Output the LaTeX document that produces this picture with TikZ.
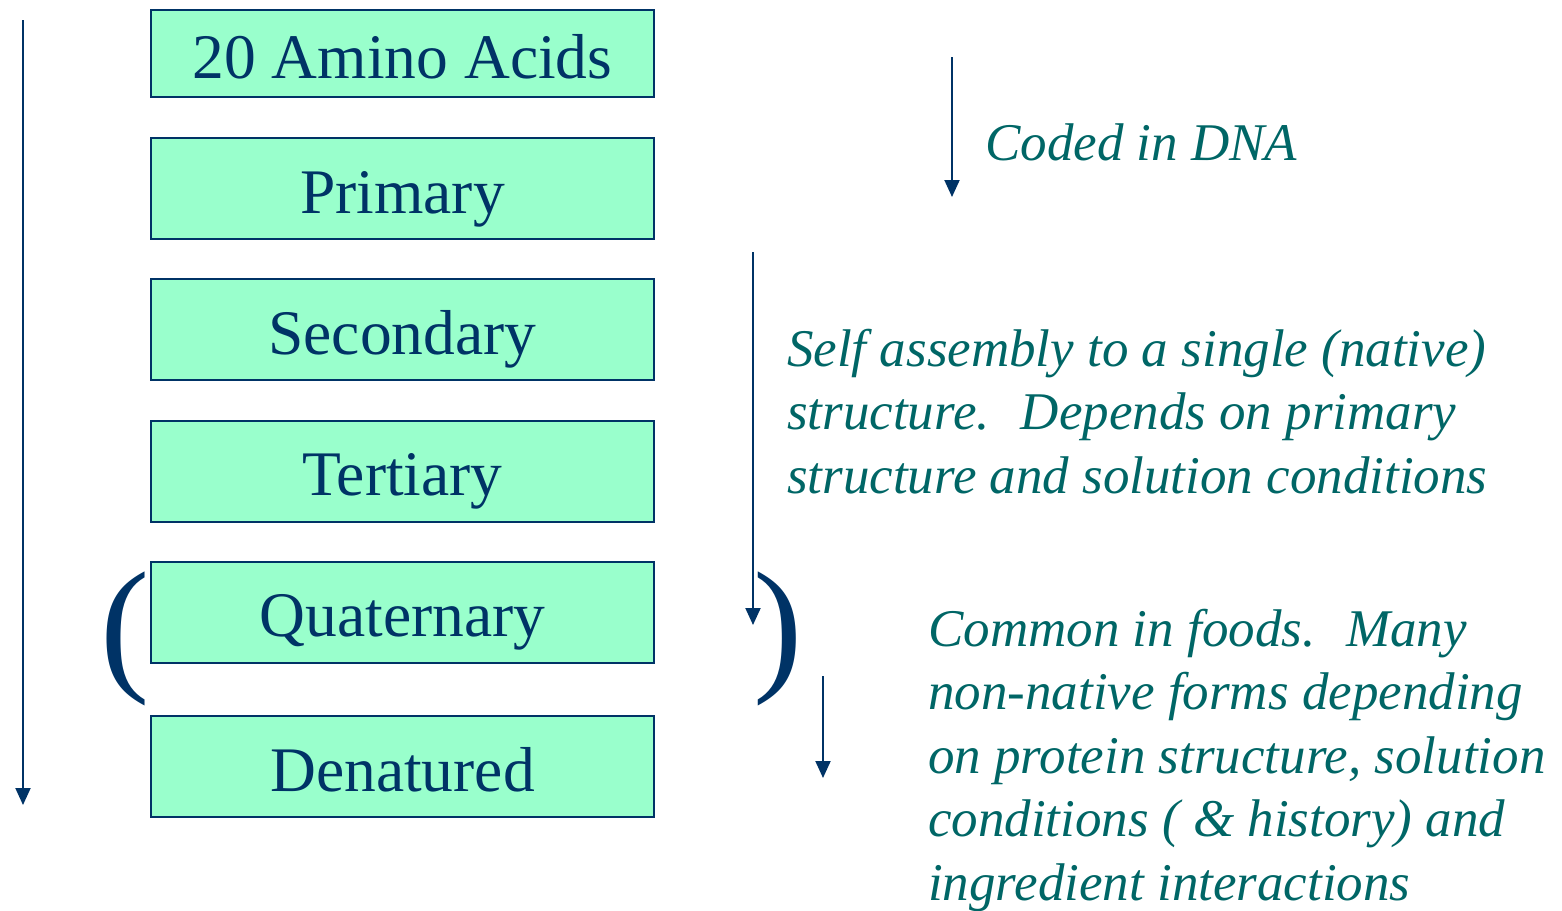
\documentclass[tikz,border=0pt]{standalone}
\usepackage{fontspec}
\setmainfont{Liberation Serif}
\usetikzlibrary{arrows.meta}

\definecolor{navy}{HTML}{003366}
\definecolor{mint}{HTML}{99FFCC}
\definecolor{notecol}{HTML}{006666}

\tikzset{
  level/.style={draw=navy, line width=2pt, fill=mint, minimum width=503pt,
    minimum height=101pt, text height=49pt, text depth=0pt, inner sep=0pt,
    text=navy, font=\fontsize{63.5}{70}\selectfont},
  note/.style={anchor=base west, align=left, inner sep=0pt, text=notecol,
    font=\fontsize{53}{63.5}\selectfont\itshape},
  paren/.style={anchor=base west, inner sep=0pt, text=navy,
    font=\fontsize{148}{150}\selectfont},
  down/.style={draw=navy, line width=2pt, -{Triangle[width=15pt,length=17pt]}}
}

\begin{document}
\begin{tikzpicture}[x=1pt,y=-1pt]
\useasboundingbox (0,0) rectangle (1562,910);

% levels of structure
\node[level, minimum height=87pt] (amino) at (402.5,53.5) {20 Amino Acids};
\node[level] (primary) at (402.5,188.5) {Primary};
\node[level] (secondary) at (402.5,329.5) {Secondary};
\node[level] (tertiary) at (402.5,471) {Tertiary};
\node[level] (quaternary) at (402.5,612) {Quaternary};
\node[level] (denatured) at (402.5,766.5) {Denatured};

% brackets round quaternary
\node[paren] (lparen) at (100,674) {(};
\node[paren] (rparen) at (753.5,674) {)};

% arrows
\coordinate (all top) at (23,20);
\coordinate (all end) at (23,805);
\coordinate (dna top) at (952,57);
\coordinate (dna end) at (952,197);
\coordinate (fold top) at (753,252);
\coordinate (fold end) at (753,625);
\coordinate (food top) at (823,676);
\coordinate (food end) at (823,778);
\draw[down] (all top) -- (all end);
\draw[down] (dna top) -- (dna end);
\draw[down] (fold top) -- (fold end);
\draw[down] (food top) -- (food end);

% notes (anchored on the last line)
\node[note] (dna) at (985,160) {Coded in DNA};
\node[note] (fold) at (787,493) {Self assembly to a single (native)\\
  structure.~ Depends on primary\\structure and solution conditions};
\node[note] (food) at (928,900) {Common in foods.~ Many\\
  non-native forms depending\\on protein structure, solution\\
  conditions ( \& history) and\\ingredient interactions};

\end{tikzpicture}
\end{document}
